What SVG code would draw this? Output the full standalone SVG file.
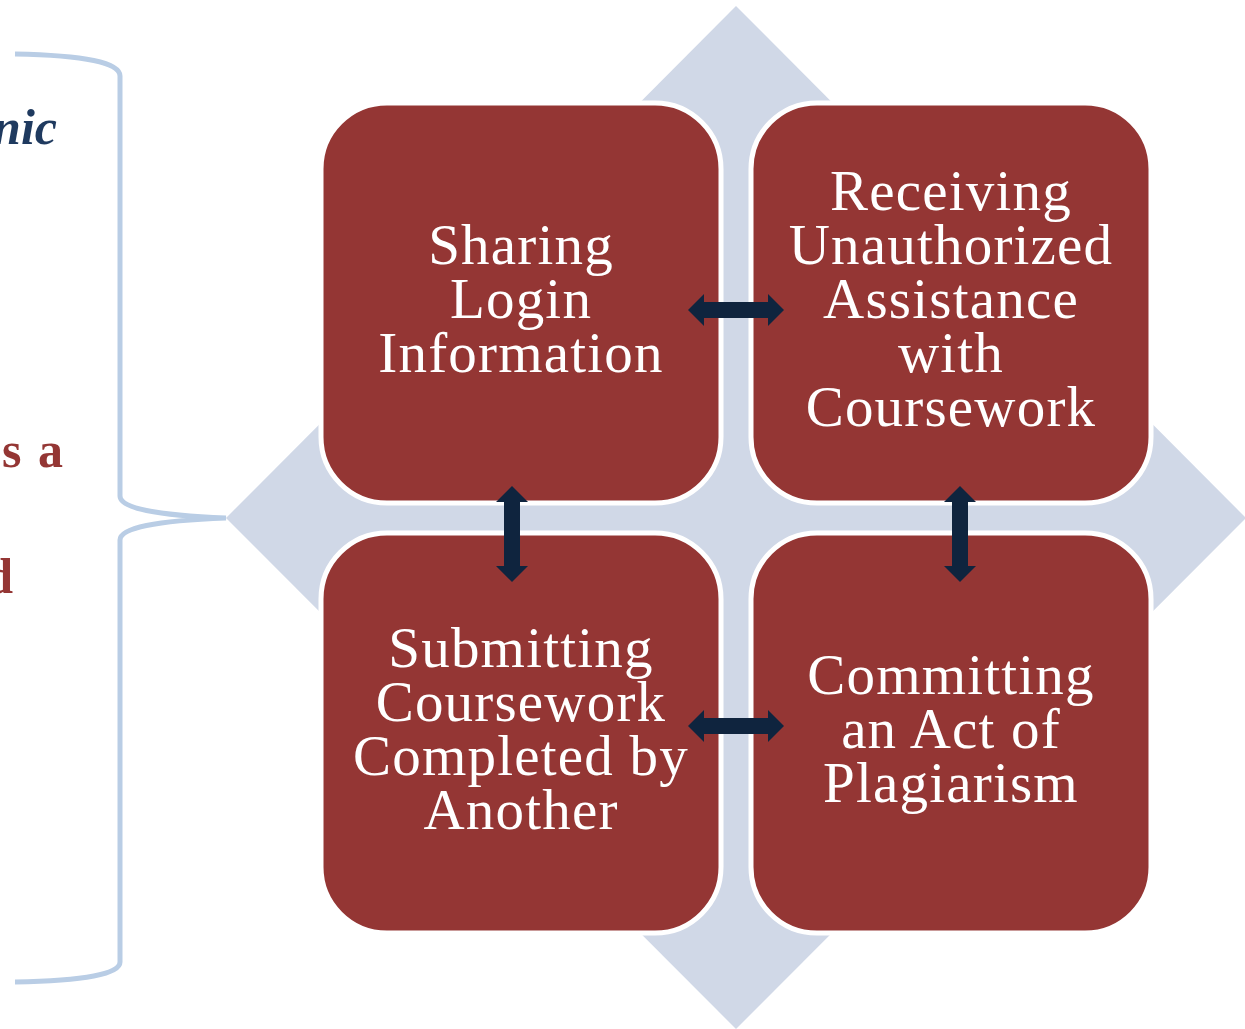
<svg xmlns="http://www.w3.org/2000/svg" width="1245" height="1029" viewBox="0 0 1245 1029">
<defs>
<style>
.box{fill:#943634;stroke:#ffffff;stroke-width:5}
.lbl{font-family:"Liberation Serif","Times New Roman",serif;font-size:57px;letter-spacing:1.2px;fill:#ffffff;text-anchor:middle}
.arr{fill:#0f243e}
.side{font-family:"Liberation Serif","Times New Roman",serif;font-size:50px;font-weight:bold}
</style>
</defs>
<rect x="0" y="0" width="1245" height="1029" fill="#ffffff"/>
<g id="side-text">
<text class="side" x="57" y="144" fill="#1f3a5f" font-style="italic" text-anchor="end">nic</text>
<text class="side" x="65" y="467" fill="#943634" text-anchor="end" letter-spacing="2">s a</text>
<text class="side" x="13" y="593" fill="#943634" text-anchor="end">d</text>
</g>
<g id="brace">
<path d="M15,54 Q120,56 120,76 L120,496 Q120,514 226,518 Q120,522 120,540 L120,962 Q120,980 15,982" fill="none" stroke="#b9cde5" stroke-width="5"/>
</g>
<g id="background-diamond">
<polygon points="736,6 1246,518 736,1029 226,518" fill="#d0d8e7"/>
</g>
<g id="node-sharing">
<rect class="box" x="321" y="103" width="400" height="400" rx="66" ry="66"/>
<text class="lbl" x="521"><tspan x="521" y="264">Sharing</tspan><tspan x="521" y="318">Login</tspan><tspan x="521" y="372">Information</tspan></text>
</g>
<g id="node-receiving">
<rect class="box" x="751" y="103" width="400" height="400" rx="66" ry="66"/>
<text class="lbl" x="951"><tspan x="951" y="210">Receiving</tspan><tspan x="951" y="264">Unauthorized</tspan><tspan x="951" y="318">Assistance</tspan><tspan x="951" y="372">with</tspan><tspan x="951" y="426">Coursework</tspan></text>
</g>
<g id="node-submitting">
<rect class="box" x="321" y="533" width="400" height="400" rx="66" ry="66"/>
<text class="lbl" x="521"><tspan x="521" y="667">Submitting</tspan><tspan x="521" y="721">Coursework</tspan><tspan x="521" y="775">Completed by</tspan><tspan x="521" y="829">Another</tspan></text>
</g>
<g id="node-plagiarism">
<rect class="box" x="751" y="533" width="400" height="400" rx="66" ry="66"/>
<text class="lbl" x="951"><tspan x="951" y="694">Committing</tspan><tspan x="951" y="748">an Act of</tspan><tspan x="951" y="802">Plagiarism</tspan></text>
</g>
<g id="connectors">
<path class="arr" d="M688,310 L704,294 L704,302 L768,302 L768,294 L784,310 L768,326 L768,318 L704,318 L704,326 Z"/>
<path class="arr" d="M688,726 L704,710 L704,718 L768,718 L768,710 L784,726 L768,742 L768,734 L704,734 L704,742 Z"/>
<path class="arr" d="M512,486 L528,502 L520,502 L520,566 L528,566 L512,582 L496,566 L504,566 L504,502 L496,502 Z"/>
<path class="arr" d="M960,486 L976,502 L968,502 L968,566 L976,566 L960,582 L944,566 L952,566 L952,502 L944,502 Z"/>
</g>
</svg>
